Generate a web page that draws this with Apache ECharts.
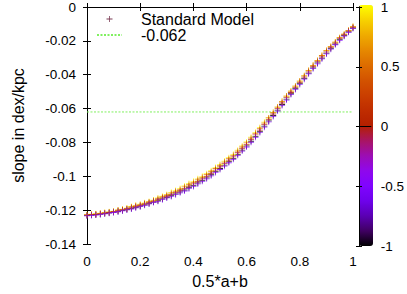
<!DOCTYPE html>
<html>
<head>
<meta charset="utf-8">
<script src="https://cdn.jsdelivr.net/npm/echarts@6/dist/echarts.min.js"></script>
<style>html,body{margin:0;padding:0;background:#fff}#c{width:407px;height:294px}</style>
</head>
<body>
<div id="c"></div>
<script>
// x positions of the point columns (0.5*a+b)
const xCols = [0,0.0167,0.0333,0.05,0.0667,0.0833,0.1,0.1167,0.1333,0.15,0.1667,0.1833,0.2,0.2167,0.2333,0.25,0.2667,0.2833,0.3,0.3167,0.3333,0.35,0.3667,0.3833,0.4,0.4167,0.4333,0.45,0.4667,0.4833,0.5,0.5167,0.5333,0.55,0.5667,0.5833,0.6,0.6167,0.6333,0.65,0.6667,0.6833,0.7,0.7167,0.7333,0.75,0.7667,0.7833,0.8,0.8167,0.8333,0.85,0.8667,0.8833,0.9,0.9167,0.9333,0.95,0.9667,0.9833,1];
// slope values for colour value 1
const slopeC1 = [-0.1226,-0.1223,-0.1221,-0.1218,-0.1214,-0.1210,-0.1206,-0.11985,-0.11935,-0.11875,-0.11785,-0.11715,-0.11645,-0.11565,-0.11485,-0.11405,-0.1128,-0.1118,-0.1108,-0.10945,-0.10835,-0.10725,-0.1057,-0.1043,-0.1030,-0.1015,-0.1000,-0.0985,-0.0967,-0.0948,-0.0930,-0.0910,-0.0890,-0.0870,-0.0846,-0.0821,-0.0797,-0.0769,-0.0740,-0.0712,-0.0680,-0.0655,-0.0623,-0.0591,-0.0558,-0.0526,-0.04975,-0.04675,-0.04375,-0.04065,-0.03755,-0.03445,-0.03155,-0.02865,-0.02575,-0.0233,-0.0207,-0.0181,-0.01605,-0.01375,-0.01155];
// slope values for colour value 0.5
const slopeC05 = [-0.1228,-0.1225,-0.1223,-0.1220,-0.1216,-0.1212,-0.1208,-0.12007,-0.11957,-0.11897,-0.11815,-0.11745,-0.11675,-0.11595,-0.11515,-0.11435,-0.1132,-0.1122,-0.1112,-0.10995,-0.10885,-0.10775,-0.1063,-0.1049,-0.1036,-0.1021,-0.1006,-0.0991,-0.0973,-0.0954,-0.0936,-0.0916,-0.0896,-0.0876,-0.0852,-0.0827,-0.0803,-0.0775,-0.0746,-0.0718,-0.0686,-0.0655,-0.0623,-0.0591,-0.0558,-0.0526,-0.04975,-0.04675,-0.04375,-0.04065,-0.03755,-0.03445,-0.03155,-0.02865,-0.02575,-0.0233,-0.0207,-0.0181,-0.01605,-0.01375,-0.01155];
// slope values for colour value 0
const slopeC0 = [-0.1230,-0.1227,-0.1225,-0.1222,-0.1218,-0.1214,-0.1210,-0.1204,-0.1199,-0.1193,-0.1186,-0.1179,-0.1172,-0.1164,-0.1156,-0.1148,-0.1138,-0.1128,-0.1118,-0.1107,-0.1096,-0.1085,-0.1072,-0.1058,-0.1045,-0.1030,-0.1015,-0.1000,-0.0982,-0.0963,-0.0945,-0.0925,-0.0905,-0.0885,-0.0861,-0.0836,-0.0812,-0.0784,-0.0755,-0.0727,-0.0695,-0.0664,-0.0632,-0.0600,-0.0567,-0.0535,-0.0505,-0.0475,-0.0445,-0.0414,-0.0383,-0.0352,-0.0323,-0.0294,-0.0265,-0.0239,-0.0213,-0.0187,-0.0165,-0.0142,-0.0120];
// slope values for colour value -0.5
const slopeCm05 = [-0.1234,-0.1231,-0.1229,-0.1226,-0.1222,-0.1218,-0.1214,-0.12095,-0.12045,-0.11985,-0.11935,-0.11865,-0.11795,-0.11715,-0.11635,-0.11555,-0.1148,-0.1138,-0.1128,-0.11195,-0.11085,-0.10975,-0.1087,-0.1073,-0.1060,-0.1045,-0.1030,-0.1015,-0.0997,-0.0978,-0.0960,-0.0940,-0.0920,-0.0900,-0.0876,-0.0851,-0.0827,-0.0799,-0.0770,-0.0742,-0.0710,-0.0679,-0.0647,-0.0615,-0.0582,-0.0550,-0.05175,-0.04875,-0.04575,-0.04265,-0.03955,-0.03645,-0.03355,-0.03065,-0.02775,-0.0249,-0.0223,-0.0197,-0.01725,-0.01495,-0.01275];
// slope values for colour value -1
const slopeCm1 = [-0.1232,-0.1229,-0.1227,-0.1224,-0.1220,-0.1216,-0.1212,-0.12073,-0.12023,-0.11963,-0.11905,-0.11835,-0.11765,-0.11685,-0.11605,-0.11525,-0.1144,-0.1134,-0.1124,-0.11145,-0.11035,-0.10925,-0.1081,-0.1067,-0.1054,-0.1039,-0.1024,-0.1009,-0.0991,-0.0972,-0.0954,-0.0934,-0.0914,-0.0894,-0.0870,-0.0845,-0.0821,-0.0793,-0.0764,-0.0736,-0.0704,-0.0673,-0.0641,-0.0609,-0.0576,-0.0544,-0.05125,-0.04825,-0.04525,-0.04215,-0.03905,-0.03595,-0.03305,-0.03015,-0.02725,-0.0245,-0.0219,-0.0193,-0.01695,-0.01465,-0.01245];
// colour values, in drawing order, and the matching slope arrays
const colourValues = [-1, 1, 0.5, 0, -0.5];
const slopeSets = [slopeCm1, slopeC1, slopeC05, slopeC0, slopeCm05];
// reference line
const refValue = -0.062;
const refX = [0, 1];
// tick labels
const xTicks = [0, 0.2, 0.4, 0.6, 0.8, 1];
const yTicks = [-0.14, -0.12, -0.1, -0.08, -0.06, -0.04, -0.02, 0];
const cbTicks = [-1, -0.5, 0, 0.5, 1];
const seriesName = 'Standard Model';
const refName = '-0.062';
const xName = '0.5*a+b';
const yName = 'slope in dex/kpc';

const points = [];
colourValues.forEach((c, k) => {
  slopeSets[k].forEach((y, i) => points.push([xCols[i], y, c]));
});

const FONT = 'Liberation Sans';
const plus = 'path://M-1,-0.13L1,-0.13L1,0.13L-1,0.13ZM-0.13,-1L0.13,-1L0.13,1L-0.13,1Z';
const palette = ['#000000','#400062','#5a00b4','#6e02ec','#8004ff','#8f08ec','#9c0db4','#a91562','#b42000','#bf2d00','#ca3e00','#d35300','#dd6c00','#e68900','#efab00','#f7d200','#ffff00'];

const chart = echarts.init(document.getElementById('c'), null, {renderer: 'svg'});
const axisLine = {show: true, lineStyle: {color: '#000', width: 1}};
chart.setOption({
  animation: false,
  textStyle: {fontFamily: FONT},
  grid: [
    {left: 87, right: 54, top: 5, bottom: 48},
    {left: 359, right: 34, top: 5, bottom: 48}
  ],
  xAxis: [
    {gridIndex: 0, type: 'value', min: xTicks[0], max: xTicks[xTicks.length - 1], interval: 0.2,
     axisLine, axisTick: {inside: true, length: 4, lineStyle: {color: '#000'}}, splitLine: {show: false},
     axisLabel: {margin: 10, fontSize: 13.5, color: '#000', fontFamily: FONT},
     name: xName, nameLocation: 'middle', nameGap: 29, nameTextStyle: {fontSize: 16, color: '#000', fontFamily: FONT}},
    {gridIndex: 0, type: 'value', position: 'top', min: 0, max: 1, interval: 0.2,
     axisLine, axisTick: {inside: true, length: 4, lineStyle: {color: '#000'}}, axisLabel: {show: false}, splitLine: {show: false}},
    {gridIndex: 1, type: 'value', min: 0, max: 1, z: 10, axisLine, axisTick: {show: false}, axisLabel: {show: false}, splitLine: {show: false}},
    {gridIndex: 1, type: 'value', position: 'top', min: 0, max: 1, z: 10, axisLine, axisTick: {show: false}, axisLabel: {show: false}, splitLine: {show: false}}
  ],
  yAxis: [
    {gridIndex: 0, type: 'value', min: yTicks[0], max: yTicks[yTicks.length - 1], interval: 0.02,
     axisLine, axisTick: {inside: true, length: 4, lineStyle: {color: '#000'}}, splitLine: {show: false},
     axisLabel: {margin: 11, fontSize: 13.5, color: '#000', fontFamily: FONT},
     name: yName, nameLocation: 'middle', nameGap: 61, nameTextStyle: {fontSize: 16, color: '#000', fontFamily: FONT}},
    {gridIndex: 0, type: 'value', position: 'right', min: -0.14, max: 0, interval: 0.02,
     axisLine, axisTick: {inside: true, length: 4, lineStyle: {color: '#000'}}, axisLabel: {show: false}, splitLine: {show: false}},
    {gridIndex: 1, type: 'value', position: 'right', min: cbTicks[0], max: cbTicks[cbTicks.length - 1], interval: 0.5, z: 10,
     axisLine, axisTick: {inside: true, length: 3, lineStyle: {color: '#000'}}, splitLine: {show: false},
     axisLabel: {margin: 10, fontSize: 13.5, color: '#000', fontFamily: FONT}},
    {gridIndex: 1, type: 'value', position: 'left', min: -1, max: 1, interval: 0.5, z: 10,
     axisLine, axisTick: {inside: true, length: 3, lineStyle: {color: '#000'}}, axisLabel: {show: false}, splitLine: {show: false}}
  ],
  visualMap: {
    type: 'continuous', min: -1, max: 1, dimension: 2, seriesIndex: 0,
    left: 359, top: 5, itemWidth: 14, itemHeight: 241, padding: 0,
    calculable: false, hoverLink: false, showLabel: false, text: null,
    inRange: {color: palette}
  },
  legend: {
    orient: 'vertical', left: 91, top: 6, itemWidth: 25, itemHeight: 6, itemGap: 0,
    selectedMode: false,
    textStyle: {fontSize: 16, color: '#000', fontFamily: FONT, lineHeight: 16, padding: [0, 0, 0, 14]},
    data: [
      {name: seriesName, icon: plus, itemStyle: {color: '#6a2340', opacity: 0.9}},
      {name: refName, itemStyle: {opacity: 0}}
    ]
  },
  series: [
    {type: 'scatter', name: seriesName, xAxisIndex: 0, yAxisIndex: 0, data: points,
     symbol: plus, symbolSize: 6, itemStyle: {opacity: 0.8, color: '#b42000'}, z: 3},
    {type: 'line', name: refName, xAxisIndex: 0, yAxisIndex: 0,
     data: refX.map(x => [x, refValue]), symbol: 'none', showSymbol: false,
     lineStyle: {color: '#80f060', width: 1, type: [2, 1.5]}, itemStyle: {color: '#80f060'}, z: 2}
  ]
});
</script>
</body>
</html>
